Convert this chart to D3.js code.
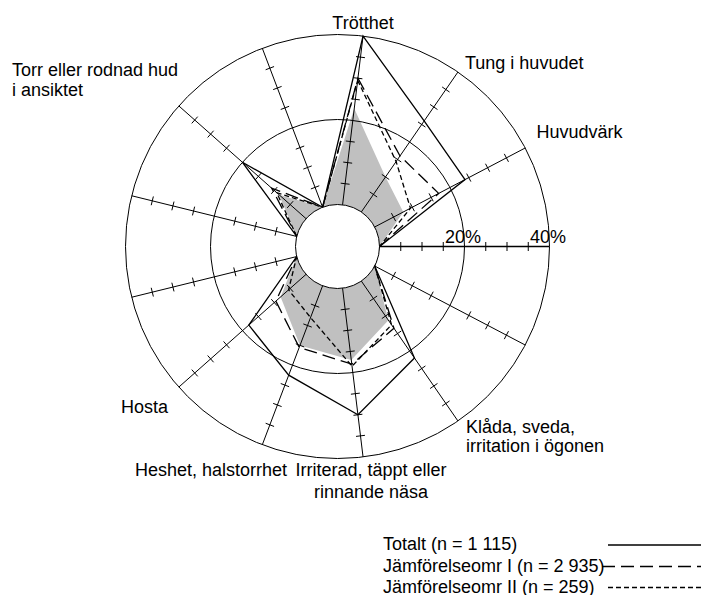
<!DOCTYPE html>
<html><head><meta charset="utf-8">
<script src="https://cdn.jsdelivr.net/npm/d3@7"></script>
<style>
body{margin:0;background:#fff}
svg text{font-family:"Liberation Sans",Arial,sans-serif;font-size:18px;fill:#000}
</style>
</head><body>
<svg id="chart" width="701" height="595"></svg>
<script>
// ---- data (clockwise from Trötthet) ----
const categories = ["Trötthet","Tung i huvudet","Huvudvärk","","","Klåda, sveda,\nirritation i ögonen","Irriterad, täppt eller\nrinnande näsa","Heshet, halstorrhet","Hosta","","","Torr eller rodnad hud\ni ansiktet",""];
const totalt   = [40, 26, 24, 0, 0, 22, 30, 22.5, 18, 0, 0, 20, 0];
const jamforI  = [30, 16, 17, 0, 0, 13.5, 18, 15.5, 9.5, 0, 0, 10.8, 0];
const jamforII = [29.5, 14.4, 9.5, 0, 0, 12.5, 18.5, 8, 5.5, 0, 0, 9.2, 0];
const referens = [22.8, 10, 7.6, 0, 0, 11.2, 17, 15, 8, 0, 0, 8.5, 0];
const minorTicks = [5, 10, 15, 25, 30, 35];
const rings = [20, 40];
const ringLabels = ["20%", "40%"];
const legendLabels = ["Totalt (n = 1 115)", "Jämförelseomr I (n = 2 935)", "Jämförelseomr II (n = 259)"];

// ---- layout ----
const svg = d3.select("#chart");
const cx = 337.5, cy = 246.5;
const n = categories.length;
const step = 2 * Math.PI / n;
const scaleAxisIndex = 3;               // the horizontal axis carrying 20% / 40%
const a0 = Math.PI / 2 - scaleAxisIndex * step;
const ang = d3.scaleLinear().domain([0, n]).range([a0, a0 + 2 * Math.PI]);
const r = d3.scaleLinear().domain([0, 40]).range([42, 212]);
const pt = (i, v) => [cx + r(v) * Math.sin(ang(i)), cy - r(v) * Math.cos(ang(i))];

const g = svg.append("g");
const radial = g.append("g").attr("transform", `translate(${cx},${cy})`);

// reference (grey) area
const areaGen = d3.lineRadial().angle((d, i) => ang(i)).radius(d => r(d)).curve(d3.curveLinearClosed);
radial.append("path").attr("d", areaGen(referens)).attr("fill", "#c0c0c0").attr("stroke", "none");

// rings
radial.selectAll("circle.ring").data(rings).join("circle")
  .attr("class", "ring").attr("r", d => r(d)).attr("fill", "none").attr("stroke", "#000").attr("stroke-width", 1);

// spokes + ticks
d3.range(n).forEach(i => {
  const p0 = pt(i, 0), p1 = pt(i, 40);
  g.append("line").attr("x1", p0[0]).attr("y1", p0[1]).attr("x2", p1[0]).attr("y2", p1[1])
    .attr("stroke", "#000").attr("stroke-width", i === scaleAxisIndex ? 1.7 : 1);
  const c = Math.cos(ang(i)), s = Math.sin(ang(i)), h = 4.5;
  minorTicks.forEach(t => {
    const p = pt(i, t);
    g.append("line").attr("x1", p[0] - h * c).attr("y1", p[1] - h * s)
      .attr("x2", p[0] + h * c).attr("y2", p[1] + h * s)
      .attr("stroke", "#000").attr("stroke-width", 1);
  });
});

// series lines
const series = [
  {vals: totalt, dash: null},
  {vals: jamforI, dash: "13,6"},
  {vals: jamforII, dash: "5,3"}
];
series.forEach(sr => {
  radial.append("path").attr("d", areaGen(sr.vals)).attr("fill", "none")
    .attr("stroke", "#000").attr("stroke-width", 1.3)
    .attr("stroke-dasharray", sr.dash);
});

// inner hole
radial.append("circle").attr("r", r(0)).attr("fill", "#fff").attr("stroke", "#000").attr("stroke-width", 1);

// ring value labels on the scale axis
rings.forEach((v, k) => {
  const p = pt(scaleAxisIndex, v);
  g.append("text").attr("x", p[0] - 1.5).attr("y", p[1] - 4).attr("text-anchor", "middle").text(ringLabels[k]);
});

// category labels (text placement)
const labelPos = {
  0: {x: 363, y: 28.5, anchor: "middle", lh: 20},
  1: {x: 465, y: 69, anchor: "start", lh: 20},
  2: {x: 536.5, y: 138, anchor: "start", lh: 20},
  5: {x: 466, y: 433, anchor: "start", lh: 18.5},
  6: {x: 371, y: 476, anchor: "middle", lh: 21.5},
  7: {x: 287, y: 476, anchor: "end", lh: 20},
  8: {x: 168, y: 413, anchor: "end", lh: 20},
  11: {x: 12, y: 76, anchor: "start", lh: 20}
};
categories.forEach((c, i) => {
  if (!c) return;
  const L = labelPos[i];
  const t = g.append("text").attr("x", L.x).attr("y", L.y).attr("text-anchor", L.anchor);
  c.split("\n").forEach((line, j) => {
    t.append("tspan").attr("x", L.x).attr("dy", j === 0 ? 0 : L.lh).text(line);
  });
});

// legend
const legY = [550, 571.5, 592.5];
const legX1 = [608, 602, 608];
legendLabels.forEach((lab, k) => {
  g.append("text").attr("x", 383).attr("y", legY[k]).text(lab);
  g.append("line").attr("x1", legX1[k]).attr("x2", 701).attr("y1", legY[k] - 5).attr("y2", legY[k] - 5)
    .attr("stroke", "#000").attr("stroke-width", 1.3).attr("stroke-dasharray", series[k].dash);
});
</script>
</body></html>
